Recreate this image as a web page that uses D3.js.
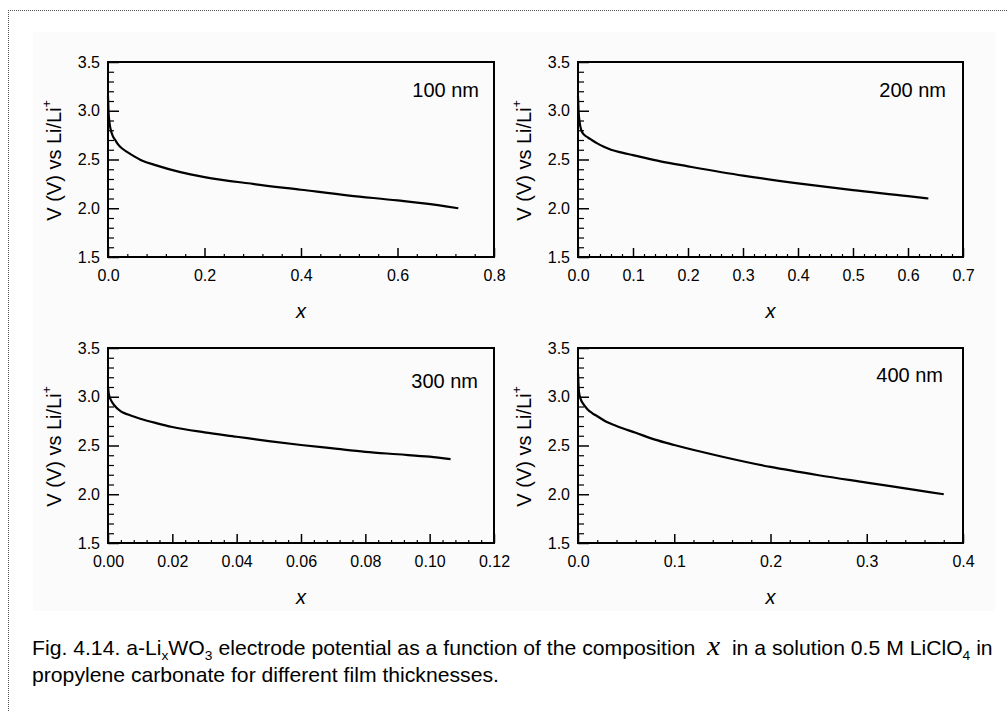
<!DOCTYPE html>
<html>
<head>
<meta charset="utf-8">
<script src="https://cdn.jsdelivr.net/npm/d3@7/dist/d3.min.js"></script>
<style>
  html, body { margin: 0; padding: 0; background: #ffffff; }
  svg { display: block; }
  text { font-family: Arial, "Liberation Sans", sans-serif; fill: #000; }
</style>
</head>
<body>
<svg id="chart" width="1008" height="711"></svg>
<script>
// ---------------- DATA ----------------
const panelLabels = ["100 nm", "200 nm", "300 nm", "400 nm"];

const x100 = [0, 0.001, 0.003, 0.006, 0.01, 0.015, 0.02, 0.03, 0.04, 0.05, 0.07, 0.1, 0.15, 0.2, 0.3, 0.4, 0.5, 0.6, 0.7, 0.726];
const v100 = [3.15, 3.0, 2.88, 2.80, 2.74, 2.70, 2.66, 2.61, 2.575, 2.545, 2.49, 2.44, 2.37, 2.32, 2.25, 2.19, 2.13, 2.08, 2.02, 2.00];

const x200 = [0, 0.001, 0.003, 0.006, 0.01, 0.017, 0.025, 0.035, 0.047, 0.06, 0.08, 0.1, 0.15, 0.2, 0.3, 0.4, 0.5, 0.6, 0.637];
const v200 = [3.15, 3.0, 2.88, 2.80, 2.76, 2.73, 2.70, 2.665, 2.63, 2.60, 2.57, 2.545, 2.48, 2.43, 2.335, 2.255, 2.185, 2.125, 2.10];

const x300 = [0, 0.0003, 0.001, 0.002, 0.004, 0.006, 0.01, 0.015, 0.02, 0.03, 0.04, 0.05, 0.06, 0.07, 0.08, 0.09, 0.1, 0.1065];
const v300 = [3.10, 3.02, 2.96, 2.91, 2.85, 2.82, 2.775, 2.73, 2.69, 2.635, 2.59, 2.545, 2.505, 2.47, 2.435, 2.41, 2.385, 2.36];

const x400 = [0, 0.001, 0.003, 0.006, 0.01, 0.015, 0.02, 0.03, 0.04, 0.06, 0.08, 0.1, 0.15, 0.2, 0.25, 0.3, 0.35, 0.38];
const v400 = [3.24, 3.05, 2.97, 2.92, 2.87, 2.83, 2.80, 2.74, 2.70, 2.63, 2.56, 2.505, 2.385, 2.28, 2.195, 2.12, 2.045, 2.00];

const xDomains = [[0, 0.8], [0, 0.7], [0, 0.12], [0, 0.4]];
const xMajorStep = [0.2, 0.1, 0.02, 0.1];
const xTickDecimals = [1, 1, 2, 1];
const yDomain = [1.5, 3.5];
const yTicks = [1.5, 2.0, 2.5, 3.0, 3.5];

const yTitle = "V (V) vs Li/Li";
const xTitle = "x";

const xSeries = [x100, x200, x300, x400];
const vSeries = [v100, v200, v300, v400];

// ---------------- LAYOUT ----------------
const svg = d3.select("#chart");
const boxes = [
  {x0: 108, x1: 494, y0: 62, y1: 257, lx: 15, ly: 35},
  {x0: 578, x1: 963, y0: 62, y1: 257, lx: 17, ly: 35},
  {x0: 108, x1: 494, y0: 348, y1: 543, lx: 16, ly: 40},
  {x0: 578, x1: 963, y0: 348, y1: 543, lx: 20, ly: 34}
];

// faint page background + dotted frame
svg.append("rect").attr("x", 33).attr("y", 32).attr("width", 962).attr("height", 579).attr("fill", "#fbfbfb");
svg.append("line").attr("x1", 8).attr("x2", 1008).attr("y1", 10.5).attr("y2", 10.5)
  .attr("stroke", "#555").attr("stroke-width", 1).attr("stroke-dasharray", "1,1");
svg.append("line").attr("x1", 8.5).attr("x2", 8.5).attr("y1", 10).attr("y2", 711)
  .attr("stroke", "#555").attr("stroke-width", 1).attr("stroke-dasharray", "1,1");

boxes.forEach((b, i) => {
  const xs = d3.scaleLinear().domain(xDomains[i]).range([b.x0, b.x1]);
  const ys = d3.scaleLinear().domain(yDomain).range([b.y1, b.y0]);
  const g = svg.append("g");

  const step = xMajorStep[i];
  const nMaj = Math.round((xDomains[i][1] - xDomains[i][0]) / step);
  const xMajor = d3.range(nMaj + 1).map(k => xDomains[i][0] + k * step);
  const xMinor = d3.range(nMaj * 5 + 1).map(k => xDomains[i][0] + k * step / 5).filter((v, k) => k % 5 !== 0);
  const yMinor = d3.range(21).map(k => 1.5 + k * 0.1).filter((v, k) => k % 5 !== 0);

  // x minor ticks
  g.append("g").attr("transform", `translate(0,${b.y1})`)
    .call(d3.axisBottom(xs).tickValues(xMinor).tickSize(-3).tickFormat(""))
    .call(s => s.select(".domain").remove())
    .call(s => s.selectAll("line").attr("stroke", "#000").attr("stroke-width", 1.2));
  // x major ticks
  g.append("g").attr("transform", `translate(0,${b.y1})`)
    .call(d3.axisBottom(xs).tickValues(xMajor).tickSize(-9).tickPadding(13).tickFormat(d3.format(`.${xTickDecimals[i]}f`)))
    .call(s => s.select(".domain").remove())
    .call(s => s.selectAll("line").attr("stroke", "#000").attr("stroke-width", 1.5))
    .call(s => s.selectAll("text").attr("font-size", 16).attr("font-family", "Arial, 'Liberation Sans', sans-serif").attr("fill", "#000"));
  // y minor ticks
  g.append("g").attr("transform", `translate(${b.x0},0)`)
    .call(d3.axisLeft(ys).tickValues(yMinor).tickSize(-6).tickFormat(""))
    .call(s => s.select(".domain").remove())
    .call(s => s.selectAll("line").attr("stroke", "#000").attr("stroke-width", 1.2));
  // y major ticks
  g.append("g").attr("transform", `translate(${b.x0},0)`)
    .call(d3.axisLeft(ys).tickValues(yTicks).tickSize(-11).tickPadding(8).tickFormat(d3.format(".1f")))
    .call(s => s.select(".domain").remove())
    .call(s => s.selectAll("line").attr("stroke", "#000").attr("stroke-width", 1.5))
    .call(s => s.selectAll("text").attr("font-size", 16).attr("font-family", "Arial, 'Liberation Sans', sans-serif").attr("fill", "#000"));

  // frame
  g.append("rect").attr("x", b.x0).attr("y", b.y0).attr("width", b.x1 - b.x0).attr("height", b.y1 - b.y0)
    .attr("fill", "none").attr("stroke", "#000").attr("stroke-width", 2);

  // curve
  const pts = xSeries[i].map((x, k) => [x, vSeries[i][k]]);
  g.append("path").datum(pts)
    .attr("d", d3.line().x(d => xs(d[0])).y(d => ys(d[1])).curve(d3.curveMonotoneX))
    .attr("fill", "none").attr("stroke", "#000").attr("stroke-width", 2.2);

  // panel label
  g.append("text").attr("x", b.x1 - b.lx).attr("y", b.y0 + b.ly).attr("text-anchor", "end")
    .attr("font-size", 20).text(panelLabels[i]);

  // y title
  const yt = g.append("text")
    .attr("transform", `translate(${b.x0 - 47},${(b.y0 + b.y1) / 2 + 1}) rotate(-90)`)
    .attr("text-anchor", "middle").attr("font-size", 20);
  yt.append("tspan").text(yTitle);
  yt.append("tspan").attr("dy", -10).attr("font-size", 12).text("+");

  // x title
  g.append("text").attr("x", (b.x0 + b.x1) / 2).attr("y", b.y1 + 61).attr("text-anchor", "middle")
    .attr("font-size", 20).attr("font-style", "italic").text(xTitle);
});

// ---------------- CAPTION ----------------
const cap = svg.append("g").attr("class", "caption");
const l1 = cap.append("text").attr("x", 0).attr("y", 0).attr("font-size", 20).attr("xml:space", "preserve");
l1.append("tspan").text("Fig. 4.14. a-Li");
l1.append("tspan").attr("dy", 5).attr("font-size", 13).text("x");
l1.append("tspan").attr("dy", -5).text("WO");
l1.append("tspan").attr("dy", 5).attr("font-size", 13).text("3");
l1.append("tspan").attr("dy", -5).text(" electrode potential as a function of the composition\u00a0\u00a0");
l1.append("tspan").attr("font-family", "'Liberation Serif', 'Times New Roman', serif").attr("font-style", "italic").attr("font-size", 28).text("x");
l1.append("tspan").text("\u00a0\u00a0in a solution 0.5 M LiClO");
l1.append("tspan").attr("dy", 5).attr("font-size", 13).text("4");
l1.append("tspan").attr("dy", -5).text(" in");
const l2 = cap.append("text").attr("x", 0).attr("y", 27).attr("font-size", 20)
  .text("propylene carbonate for different film thicknesses.");
const w1 = l1.node().getComputedTextLength();
const sx = 961 / w1;
cap.attr("transform", `translate(32,655) scale(${sx},1)`);
</script>
</body>
</html>
